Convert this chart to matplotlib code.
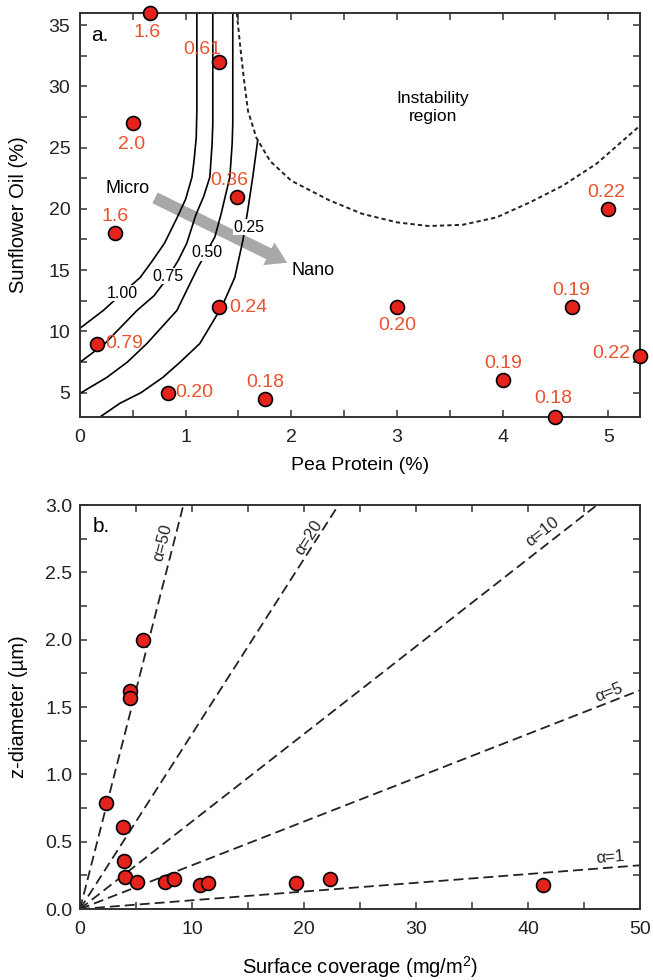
import numpy as np
import matplotlib
matplotlib.use('Agg')
from matplotlib import pyplot as plt
from matplotlib.patches import FancyArrowPatch
from matplotlib.ticker import MultipleLocator, FormatStrFormatter

plt.rcParams['font.family'] = ['Liberation Sans', 'DejaVu Sans']
plt.rcParams['mathtext.fontset'] = 'custom'
plt.rcParams['mathtext.rm'] = 'Liberation Sans'

# panel a: emulsion composition, labelled with z-diameter (um)
pea_protein = [0.66, 1.32, 0.50, 1.49, 0.33, 1.32, 0.16, 0.83, 1.75, 3.0, 4.66, 4.0, 4.5, 5.3, 5.0]
sunflower_oil = [36, 32, 27, 21, 18, 12, 9, 5, 4.5, 12, 12, 6, 3, 8, 20]
size_labels = ['1.6', '0.61', '2.0', '0.36', '1.6', '0.24', '0.79', '0.20',
               '0.18', '0.20', '0.19', '0.19', '0.18', '0.22', '0.22']

# iso-diameter curves (um)
contour_levels = ['1.00', '0.75', '0.50', '0.25']
contour_x = [
    [1.106, 1.106, 1.10, 1.08, 1.06, 1.00, 0.92, 0.80, 0.68, 0.57, 0.40, 0.22, 0.0],
    [1.257, 1.257, 1.25, 1.229, 1.17, 1.096, 1.011, 0.93, 0.832, 0.70, 0.539, 0.236, 0.0],
    [1.446, 1.446, 1.44, 1.418, 1.333, 1.276, 1.115, 0.917, 0.633, 0.45, 0.255, 0.0],
    [1.682, 1.635, 1.588, 1.541, 1.465, 1.342, 1.134, 0.95, 0.785, 0.58, 0.378, 0.189],
]
contour_y = [
    [36, 28.0, 25.8, 24.0, 22.6, 20.8, 19.3, 17.2, 15.7, 14.4, 13.1, 11.7, 10.25],
    [36, 27.0, 25.3, 22.6, 21.0, 19.5, 17.2, 15.8, 14.4, 12.9, 11.7, 9.0, 7.47],
    [36, 27.0, 25.3, 22.6, 19.5, 17.7, 15.2, 11.7, 9.0, 7.5, 6.24, 4.93],
    [25.6, 22.6, 19.9, 17.4, 14.4, 12.0, 9.0, 7.5, 6.24, 5.0, 4.12, 3.0],
]
contour_label_x = [0.40, 0.83, 1.20, 1.60]
contour_label_y = [13.1, 14.5, 16.4, 18.5]

# boundary of the instability region
boundary_x = [1.484, 1.52, 1.55, 1.59, 1.67, 1.80, 2.0, 2.36, 2.67, 3.0, 3.3,
              3.62, 3.94, 4.25, 4.57, 4.89, 5.3]
boundary_y = [36, 33, 30.7, 28.0, 25.8, 23.9, 22.3, 20.7, 19.6, 18.9, 18.6,
              18.7, 19.3, 20.5, 21.9, 23.7, 26.8]

# panel b: z-diameter against surface coverage
coverage = [5.6, 4.5, 4.5, 2.3, 3.85, 3.9, 4.0, 5.1, 7.6, 8.4, 10.7, 11.4, 19.3, 22.3, 41.3]
z_diameter = [2.0, 1.62, 1.57, 0.79, 0.61, 0.36, 0.24, 0.20, 0.20, 0.22, 0.18, 0.19, 0.19, 0.22, 0.18]
alphas = [50, 20, 10, 5, 1]
slope_per_alpha = 0.0065
alpha_label_x = [7.4, 20.4, 41.3, 47.2, 47.3]
alpha_label_y = [2.72, 2.76, 2.80, 1.61, 0.38]

RED = '#e3231c'
LABEL_RED = '#e8532f'
SPINE = '#333333'


def style_axes(ax, xpad, ypad):
    for s in ax.spines.values():
        s.set_color(SPINE)
        s.set_linewidth(1.4)
    ax.tick_params(which='both', direction='in', top=True, right=True,
                   length=5, width=1.1, color=SPINE, labelsize=14,
                   labelcolor='#222222')
    ax.tick_params(axis='x', pad=xpad)
    ax.tick_params(axis='y', pad=ypad)


fig = plt.figure(figsize=(6.53, 9.8), dpi=100)

# ---- panel a ----
ax1 = fig.add_axes([0.1225, 0.5745, 0.8576, 0.4122])
ax1.set_xlim(0, 5.3)
ax1.set_ylim(3, 36)
ax1.xaxis.set_major_locator(MultipleLocator(1))
ax1.xaxis.set_minor_locator(MultipleLocator(0.5))
ax1.yaxis.set_major_locator(MultipleLocator(5))
ax1.yaxis.set_minor_locator(MultipleLocator(2.5))
style_axes(ax1, 8.5, 7)

arrow = FancyArrowPatch((0.71, 20.9), (1.96, 15.6),
                        arrowstyle='simple,tail_width=1,head_width=2.1,head_length=1.7',
                        mutation_scale=8.6, color='#a8a8a8', lw=0,
                        shrinkA=0, shrinkB=0, zorder=1)
ax1.add_patch(arrow)

for xs, ys in zip(contour_x, contour_y):
    ax1.plot(xs, ys, color='black', lw=1.2, zorder=2, clip_on=False)
for lab, lx, ly in zip(contour_levels, contour_label_x, contour_label_y):
    ax1.text(lx, ly, lab, fontsize=11.5, ha='center', va='center', zorder=3,
             bbox=dict(facecolor='white', edgecolor='none', pad=0.5))

ax1.plot(boundary_x, boundary_y, color='#222222', lw=1.4, dashes=(2.2, 1.6), zorder=2)

ax1.scatter(pea_protein, sunflower_oil, s=100, color=RED, edgecolors='black',
            linewidths=1.2, zorder=5, clip_on=False)

# where each size label sits relative to its point (pixels)
label_offsets = [(-3, -19, 'center'), (-17, 12, 'center'), (-1, -21, 'center'),
                 (-8, 16, 'center'), (0, 17, 'center'), (10, -1, 'left'),
                 (8, 0, 'left'), (8, 0, 'left'), (0, 16, 'center'),
                 (0, -19, 'center'), (-1, 16, 'center'), (1, 17, 'center'),
                 (-2, 18, 'center'), (-10, 2, 'right'), (-2, 16, 'center')]
for px, py, lab, (dx, dy, ha) in zip(pea_protein, sunflower_oil, size_labels, label_offsets):
    ax1.annotate(lab, (px, py), xytext=(dx, dy), textcoords='offset pixels',
                 ha=ha, va='center', fontsize=14, color=LABEL_RED, zorder=6)

ax1.text(0.11, 34.2, 'a.', fontsize=15, ha='left', va='center')
ax1.text(0.45, 21.7, 'Micro', fontsize=13, ha='center', va='center')
ax1.text(2.0, 15.0, 'Nano', fontsize=13, ha='left', va='center')
ax1.text(3.34, 28.3, 'Instability\nregion', fontsize=12.5, ha='center',
         va='center', linespacing=1.25)

ax1.set_xlabel('Pea Protein (%)', fontsize=14)
ax1.set_ylabel('Sunflower Oil (%)', fontsize=14.5)
ax1.xaxis.set_label_coords(0.5, -0.1)
ax1.yaxis.set_label_coords(-0.093, 0.5)

# ---- panel b ----
ax2 = fig.add_axes([0.1225, 0.0724, 0.8576, 0.4122])
ax2.set_xlim(0, 50)
ax2.set_ylim(0, 3)
ax2.xaxis.set_major_locator(MultipleLocator(10))
ax2.xaxis.set_minor_locator(MultipleLocator(5))
ax2.yaxis.set_major_locator(MultipleLocator(0.5))
ax2.yaxis.set_minor_locator(MultipleLocator(0.25))
ax2.yaxis.set_major_formatter(FormatStrFormatter('%.1f'))
style_axes(ax2, 8.5, 5.5)

for a, lx, ly in zip(alphas, alpha_label_x, alpha_label_y):
    k = a * slope_per_alpha
    ax2.plot([0, 50], [0, 50 * k], color='#222222', lw=1.3, dashes=(5.5, 2.8), zorder=2)
    p0 = ax2.transData.transform((0, 0))
    p1 = ax2.transData.transform((1, k))
    ang = np.degrees(np.arctan2(p1[1] - p0[1], p1[0] - p0[0]))
    ax2.text(lx, ly, '\u03b1=%d' % a, fontsize=12, rotation=ang,
             rotation_mode='anchor', ha='center', va='center', color='#222222')

ax2.scatter(coverage, z_diameter, s=100, color=RED, edgecolors='black',
            linewidths=1.2, zorder=5)

ax2.text(1.1, 2.84, 'b.', fontsize=15, ha='left', va='center')
ax2.set_xlabel('Surface coverage (mg/m$^\\mathregular{2}$)', fontsize=14.5)
ax2.set_ylabel('z-diameter (\u00b5m)', fontsize=14.5)
ax2.xaxis.set_label_coords(0.5, -0.112)
ax2.yaxis.set_label_coords(-0.093, 0.5)

fig.savefig('out.png', dpi=100, facecolor='white')
